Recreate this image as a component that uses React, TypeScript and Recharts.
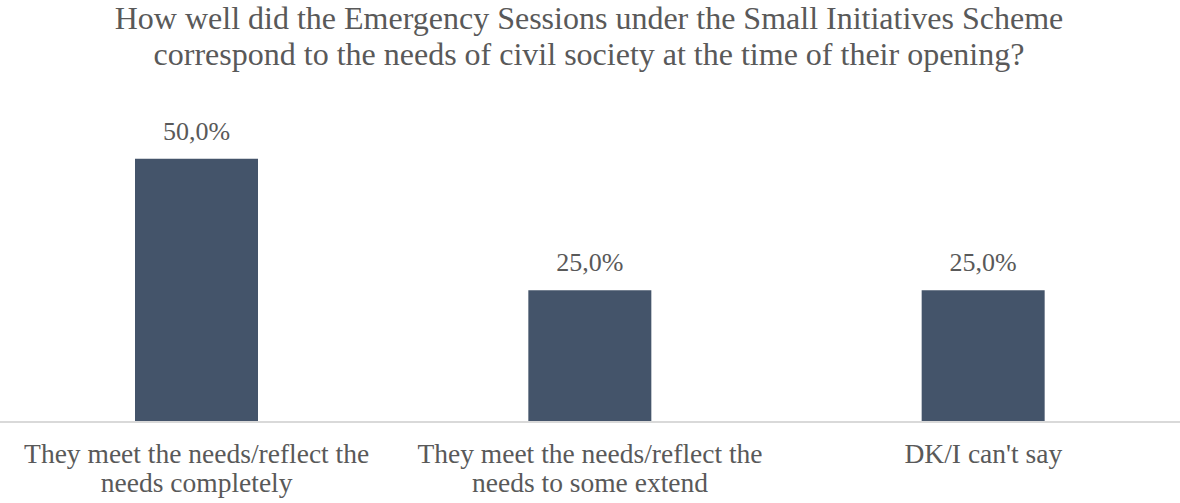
import { Bar, BarChart, LabelList, XAxis, YAxis } from "recharts";

const TITLE_LINES = [
  "How well did the Emergency Sessions under the Small Initiatives Scheme",
  "correspond to the needs of civil society at the time of their opening?",
];

const CATEGORIES = [
  "They meet the needs/reflect the needs completely",
  "They meet the needs/reflect the needs to some extend",
  "DK/I can't say",
];

const CATEGORY_LINES = [
  ["They meet the needs/reflect the", "needs completely"],
  ["They meet the needs/reflect the", "needs to some extend"],
  ["DK/I can't say"],
];

const SHARES = [0.5, 0.25, 0.25];

const FONT = "'Liberation Serif', 'Times New Roman', serif";
const GREY = "#595959";

const rows = CATEGORIES.map((name, i) => ({ name, value: SHARES[i] }));

function pct(v: number): string {
  return (v * 100).toFixed(1).replace(".", ",") + "%";
}

function CategoryTick(props: any) {
  const { x, y, index } = props;
  const lines = CATEGORY_LINES[index] ?? [];
  return (
    <text x={x} y={y} textAnchor="middle" fontFamily={FONT} fontSize={27.5} fill={GREY}>
      {lines.map((l, i) => (
        <tspan key={i} x={x} y={y + 33 + i * 29}>
          {l}
        </tspan>
      ))}
    </text>
  );
}

export default function App() {
  return (
    <div style={{ position: "absolute", left: 0, top: 0, width: 1180, height: 503, background: "#fff" }}>
      <svg width={1180} height={100} style={{ position: "absolute", left: 0, top: 0 }}>
        {TITLE_LINES.map((t, i) => (
          <text
            key={i}
            x={589}
            y={29 + i * 36}
            textAnchor="middle"
            fontFamily={FONT}
            fontSize={32}
            fill={GREY}
          >
            {t}
          </text>
        ))}
      </svg>
      <BarChart
        width={1180}
        height={503}
        data={rows}
        margin={{ top: 106, right: 0, bottom: 0, left: 0 }}
        style={{ position: "absolute", left: 0, top: 0 }}
      >
        <XAxis
          dataKey="name"
          interval={0}
          tickLine={false}
          axisLine={{ stroke: "#D9D9D9", strokeWidth: 2 }}
          tick={<CategoryTick />}
          height={81}
        />
        <YAxis hide domain={[0, 0.6]} />
        <Bar dataKey="value" fill="#44546A" barSize={123} isAnimationActive={false}>
          <LabelList
            dataKey="value"
            position="top"
            offset={19}
            formatter={(v: any) => pct(Number(v))}
            fontFamily={FONT}
            fontSize={26}
            fill={GREY}
          />
        </Bar>
      </BarChart>
    </div>
  );
}
